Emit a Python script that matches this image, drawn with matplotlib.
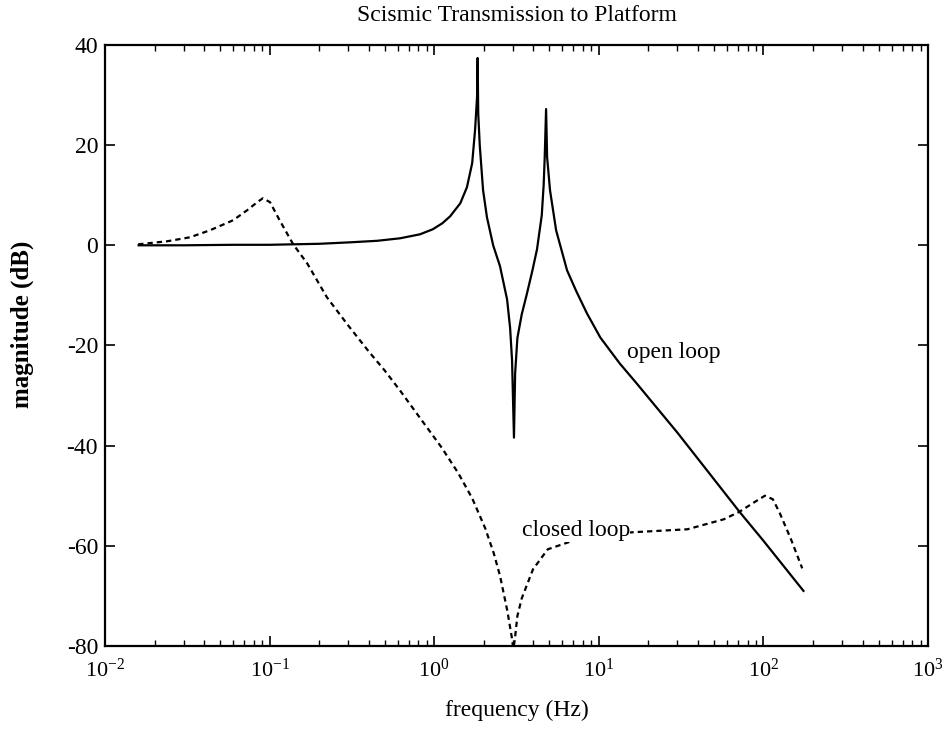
"""
seismic transmission plot

open loop / closed loop magnitude vs frequency
"""

import matplotlib
matplotlib.use("Agg")
import matplotlib.pyplot as plt
from matplotlib.ticker import LogLocator, NullFormatter

# values
open_freq = [0.016, 0.03, 0.06, 0.1, 0.139, 0.2, 0.31, 0.45, 0.62, 0.82,
             0.98, 1.12, 1.25, 1.44, 1.58, 1.70, 1.77, 1.82, 1.835, 1.85,
             1.89, 1.98, 2.09, 2.28, 2.51, 2.77, 2.89, 2.97, 3.05, 3.1,
             3.2, 3.4, 3.66, 3.95, 4.21, 4.5, 4.62, 4.69, 4.78, 4.85,
             5.05, 5.5, 6.41, 7.3, 8.47, 10.2, 13.4, 16.8, 30.0, 71.5,
             100.0, 175.0]
open_db = [0.0, 0.0, 0.1, 0.1, 0.2, 0.3, 0.6, 0.9, 1.4, 2.2,
           3.2, 4.4, 5.8, 8.4, 11.6, 16.4, 23.0, 29.6, 37.4, 26.4,
           20.0, 11.0, 5.6, 0.0, -4.2, -10.8, -16.5, -23.0, -38.4, -25.6,
           -18.5, -13.8, -9.6, -5.0, -0.8, 6.0, 12.0, 17.6, 27.2, 17.6,
           11.0, 3.0, -5.0, -9.2, -13.6, -18.4, -23.6, -27.4, -37.4, -53.2,
           -59.0, -69.0]

closed_freq = [0.0159, 0.0238, 0.0328, 0.0434, 0.060, 0.073, 0.084, 0.091, 0.1006, 0.115,
               0.139, 0.169, 0.223, 0.3, 0.4, 0.5, 0.62, 0.8, 1.11, 1.4,
               1.7, 2.04, 2.3, 2.51, 2.78, 2.95, 3.02, 3.08, 3.2, 3.4,
               3.98, 4.89, 7.38, 10.0, 15.9, 34.5, 57.5, 71.5, 88.0, 102.0,
               114.0, 125.0, 147.0, 172.0]
closed_db = [0.2, 0.8, 1.6, 3.0, 5.0, 7.0, 8.6, 9.4, 8.6, 5.0,
             0.2, -3.6, -10.4, -16.0, -21.2, -25.0, -29.0, -34.0, -40.4, -45.5,
             -50.5, -56.5, -61.5, -66.0, -73.0, -78.0, -80.5, -79.0, -74.0, -70.5,
             -64.7, -60.7, -58.7, -58.0, -57.3, -56.7, -54.7, -53.2, -51.3, -50.0,
             -50.7, -53.3, -58.7, -64.5]

title = "Scismic Transmission to Platform"
x_label = "frequency (Hz)"
y_label = "magnitude (dB)"
y_ticks = [40, 20, 0, -20, -40, -60, -80]

plt.rcParams["font.family"] = ["Liberation Serif", "DejaVu Serif"]
plt.rcParams["mathtext.fontset"] = "stix"
plt.rcParams["axes.unicode_minus"] = False

fig = plt.figure(figsize=(9.42, 7.30), dpi=100)
ax = fig.add_axes([0.1115, 0.1151, 0.8737, 0.8233])

ax.plot(open_freq, open_db, color="black", lw=1.6)
ax.plot(closed_freq, closed_db, color="black", lw=1.6, ls=(0, (2.4, 1.8)))

ax.set_xscale("log")
ax.set_xlim(1e-2, 1e3)
ax.set_ylim(-80, 40)
ax.set_yticks(y_ticks)
ax.xaxis.set_major_locator(LogLocator(base=10, numticks=10))
ax.xaxis.set_minor_locator(LogLocator(base=10, subs=range(2, 10), numticks=20))
ax.xaxis.set_minor_formatter(NullFormatter())

ax.tick_params(which="both", direction="in", top=True, right=True, labelsize=17)
ax.tick_params(axis="x", labelsize=16)
ax.tick_params(which="major", length=7, width=1.2)
ax.tick_params(which="minor", length=4, width=1.0)
ax.tick_params(axis="x", which="major", pad=9)
ax.tick_params(axis="y", which="major", pad=5)
for s in ax.spines.values():
    s.set_linewidth(1.6)

ax.text(14.8, -21.5, "open loop", fontsize=17, ha="left", va="center")
ax.text(3.4, -57.0, "closed loop", fontsize=17, ha="left", va="center",
        bbox=dict(facecolor="white", edgecolor="none", pad=0.3))

ax.set_title(title, fontsize=17, pad=17)
ax.set_xlabel(x_label, fontsize=17)
ax.xaxis.set_label_coords(0.5, -0.09)
ax.set_ylabel(y_label, fontsize=18, fontweight="bold")
ax.yaxis.set_label_coords(-0.086, 0.535)

fig.savefig("out.png", dpi=100)
